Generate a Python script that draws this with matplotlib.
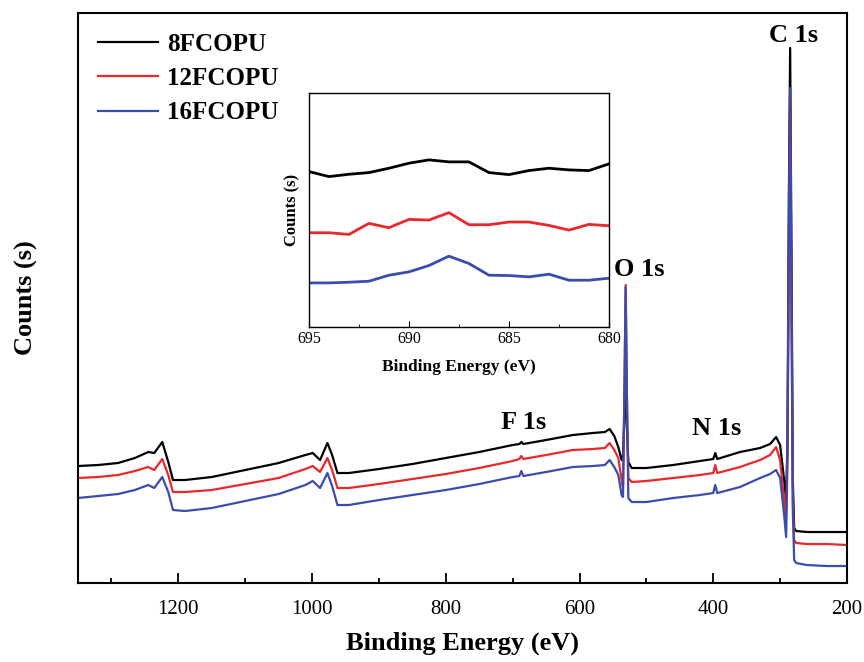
import matplotlib
matplotlib.use("Agg")
import matplotlib.pyplot as plt
from matplotlib.ticker import MultipleLocator

plt.rcParams['font.family'] = ['Liberation Serif', 'DejaVu Serif']

# XPS survey spectra (binding energy in eV, intensity in arbitrary counts)
energija = [1350, 1320, 1290, 1265, 1245, 1236, 1224, 1215, 1208, 1190,
            1150, 1100, 1050, 1010, 999, 988, 977, 970, 962, 945,
            900, 850, 800, 750, 700, 690, 687, 684, 650, 610,
            580, 562, 555, 548, 542, 537, 535, 533, 531, 529,
            527, 522, 500, 460, 420, 400, 397, 394, 360, 330,
            315, 306, 300, 294, 291, 289, 287, 285, 283, 281,
            279, 276, 260, 230, 200]

fcopu_8 = [117, 118, 120, 125, 131, 130, 141, 121, 103, 103,
           106, 113, 120, 128, 130, 123, 140, 128, 110, 110,
           114, 119, 125, 131, 138, 139, 141, 139, 143, 148,
           150, 151, 154, 147, 136, 123, 128, 163, 198, 153,
           121, 115, 115, 118, 122, 124, 130, 124, 131, 135,
           139, 146, 138, 103, 83, 143, 383, 535, 333, 103,
           55, 52, 51, 51, 51]

fcopu_12 = [105, 106, 108, 112, 116, 113, 124, 108, 91, 91,
            93, 99, 105, 114, 117, 111, 125, 113, 95, 95,
            99, 104, 109, 115, 122, 124, 127, 124, 128, 133,
            134, 135, 140, 133, 125, 103, 96, 183, 298, 183,
            105, 101, 102, 105, 108, 110, 118, 110, 116, 123,
            128, 136, 123, 83, 66, 133, 333, 488, 283, 83,
            43, 40, 39, 39, 38]

fcopu_16 = [85, 87, 89, 93, 98, 95, 106, 91, 73, 72,
            75, 82, 89, 98, 102, 95, 110, 97, 78, 78,
            83, 88, 93, 99, 106, 107, 112, 107, 111, 116,
            117, 118, 123, 116, 108, 88, 86, 183, 296, 183,
            85, 81, 81, 85, 88, 90, 98, 90, 96, 105,
            109, 113, 105, 68, 46, 123, 333, 495, 283, 73,
            23, 20, 18, 17, 17]

# F 1s region, 695-680 eV
energija_f = [695, 694, 693, 692, 691, 690, 689, 688,
              687, 686, 685, 684, 683, 682, 681, 680]
f_8 = [465, 450, 457, 462, 475, 490, 500, 494,
       494, 462, 456, 468, 475, 470, 468, 488]
f_12 = [282, 282, 277, 310, 297, 322, 320, 342,
        306, 306, 314, 314, 304, 290, 307, 303]
f_16 = [132, 132, 134, 137, 155, 165, 184, 212,
        190, 155, 154, 150, 158, 140, 140, 146]

nazivi = ['8FCOPU', '12FCOPU', '16FCOPU']
boje = ['#000000', '#e8282b', '#3a4cad']

# peak labels: (text, energy, counts)
vrhovi = [('C 1s', 280, 547), ('O 1s', 510, 313),
          ('N 1s', 395, 155), ('F 1s', 683, 161)]


def uredi_osi(ax, debljina):
    """Postavlja debljinu okvira i uklanja y crtice."""
    for spine in ax.spines.values():
        spine.set_linewidth(debljina)
    ax.set_yticks([])


fig = plt.figure(figsize=(8.64, 6.62), dpi=100)
ax = fig.add_axes([0.0903, 0.1193, 0.8900, 0.8611])

for y, naziv, boja in zip([fcopu_8, fcopu_12, fcopu_16], nazivi, boje):
    ax.plot(energija, y, color=boja, linewidth=1.6, label=naziv)

ax.set_xlim(1350, 200)
ax.set_ylim(0, 570)
uredi_osi(ax, 1.5)
ax.xaxis.set_major_locator(MultipleLocator(200))
ax.xaxis.set_minor_locator(MultipleLocator(100))
ax.tick_params(axis='x', which='major', direction='in', length=7,
               width=1.3, labelsize=15, pad=12)
ax.tick_params(axis='x', which='minor', direction='in', length=3.5,
               width=1.3)

ax.set_xlabel('Binding Energy (eV)', fontsize=19, fontweight='bold')
ax.set_ylabel('Counts (s)', fontsize=19, fontweight='bold')
ax.xaxis.set_label_coords(0.5, -0.086)
ax.yaxis.set_label_coords(-0.052, 0.5)

for tekst, x, y in vrhovi:
    ax.text(x, y, tekst, fontsize=19, fontweight='bold',
            ha='center', va='center')

ax.legend(loc='upper left', frameon=False,
          prop={'weight': 'bold', 'size': 18}, handlelength=2.4,
          handletextpad=0.35, labelspacing=0.45,
          bbox_to_anchor=(0.0, 1.0), borderaxespad=0.4)

# inset with the F 1s region
ax_in = fig.add_axes([0.3576, 0.5060, 0.3472, 0.3535])
for y, boja in zip([f_8, f_12, f_16], boje):
    ax_in.plot(energija_f, y, color=boja, linewidth=2.0)
ax_in.set_xlim(695, 680)
ax_in.set_ylim(0, 700)
uredi_osi(ax_in, 1.0)
ax_in.xaxis.set_major_locator(MultipleLocator(5))
ax_in.xaxis.set_minor_locator(MultipleLocator(2.5))
ax_in.tick_params(axis='x', which='major', direction='in', length=4,
                  labelsize=11.5, pad=3)
ax_in.tick_params(axis='x', which='minor', direction='in', length=2.5)
ax_in.set_xlabel('Binding Energy (eV)', fontsize=12.5, fontweight='bold')
ax_in.set_ylabel('Counts (s)', fontsize=12, fontweight='bold')
ax_in.xaxis.set_label_coords(0.5, -0.135)
ax_in.yaxis.set_label_coords(-0.028, 0.5)

fig.savefig('out.png', dpi=100)
